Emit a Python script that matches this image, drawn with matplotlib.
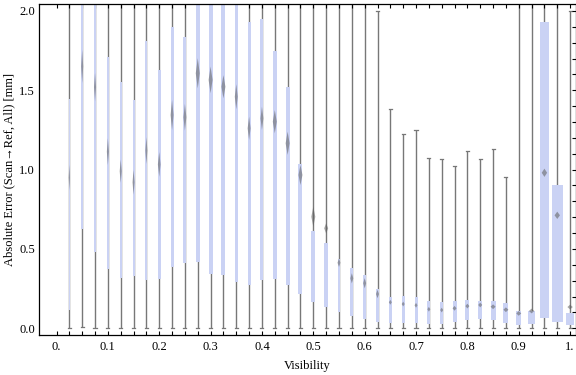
import matplotlib
matplotlib.use('Agg')
import matplotlib.pyplot as plt
from matplotlib.patches import Rectangle, Polygon

plt.rcParams['font.family'] = ['Liberation Serif', 'DejaVu Serif']

# visibility bins (box centres)
visibility = [0.025, 0.05, 0.075, 0.1, 0.125, 0.15, 0.175, 0.2, 0.225, 0.25,
              0.275, 0.3, 0.325, 0.35, 0.375, 0.4, 0.425, 0.45, 0.475, 0.5,
              0.525, 0.55, 0.575, 0.6, 0.625, 0.65, 0.675, 0.7, 0.725, 0.75,
              0.775, 0.8, 0.825, 0.85, 0.875, 0.9, 0.925, 0.95, 0.975, 1.0]

whisker_low = [0.0, 0.01, 0.005, 0.0, 0.0, 0.0, 0.0, 0.0, 0.005, 0.005,
               0.005, 0.005, 0.005, 0.005, 0.005, 0.005, 0.005, 0.005, 0.005, 0.005,
               0.005, 0.005, 0.005, 0.005, 0.005, 0.0, 0.0, 0.0, 0.0, 0.0,
               0.0, 0.0, 0.0, 0.0, 0.0, 0.0, 0.0, 0.0, 0.0, 0.0]

q1 = [0.115, 0.624, 0.483, 0.372, 0.315, 0.331, 0.304, 0.309, 0.388, 0.413,
      0.420, 0.342, 0.336, 0.294, 0.273, 0.302, 0.313, 0.273, 0.218, 0.168,
      0.136, 0.101, 0.078, 0.057, 0.042, 0.035, 0.035, 0.031, 0.029, 0.029,
      0.040, 0.052, 0.059, 0.052, 0.035, 0.021, 0.029, 0.067, 0.042, 0.023]

q3 = [1.443, 2.2, 2.2, 1.711, 1.55, 1.439, 1.812, 1.626, 1.90, 1.834,
      2.2, 2.2, 2.2, 2.2, 1.932, 1.949, 1.747, 1.519, 1.035, 0.613,
      0.536, 0.437, 0.378, 0.334, 0.248, 0.197, 0.204, 0.197, 0.172, 0.166,
      0.172, 0.178, 0.172, 0.172, 0.158, 0.109, 0.109, 1.93, 0.903, 0.096]

whisker_high = [2.6, 2.6, 2.6, 2.6, 2.6, 2.6, 2.6, 2.6, 2.6, 2.6,
                2.6, 2.6, 2.6, 2.6, 2.6, 2.6, 2.6, 2.6, 2.6, 2.6,
                2.6, 2.6, 2.6, 2.6, 2.0, 1.382, 1.222, 1.25, 1.071, 1.065,
                1.023, 1.12, 1.065, 1.129, 0.951, 2.6, 2.6, 2.6, 2.6, 2.0]

means = [0.95, 1.65, 1.52, 1.113, 0.99, 0.92, 1.12, 1.033, 1.344, 1.33,
         1.607, 1.565, 1.522, 1.459, 1.26, 1.323, 1.302, 1.166, 0.966, 0.703,
         0.63, 0.413, 0.315, 0.284, 0.216, 0.164, 0.153, 0.145, 0.12, 0.115,
         0.126, 0.14, 0.147, 0.136, 0.117, 0.094, 0.109, 0.98, 0.712, 0.134]

# half height of the mean marker (uncertainty of the mean)
mean_err = [0.08, 0.105, 0.089, 0.084, 0.073, 0.078, 0.084, 0.078, 0.095, 0.084,
            0.095, 0.084, 0.073, 0.079, 0.073, 0.073, 0.073, 0.073, 0.063, 0.063,
            0.032, 0.026, 0.032, 0.032, 0.026, 0.015, 0.015, 0.015, 0.015, 0.015,
            0.015, 0.015, 0.015, 0.015, 0.015, 0.015, 0.015, 0.026, 0.023, 0.015]

# relative box width (sample weight), fraction of the bin spacing
box_weight = [0.10, 0.16, 0.16, 0.16, 0.16, 0.16, 0.16, 0.21, 0.23, 0.23,
              0.31, 0.31, 0.31, 0.23, 0.23, 0.23, 0.31, 0.31, 0.31, 0.31,
              0.31, 0.23, 0.23, 0.23, 0.23, 0.23, 0.23, 0.23, 0.23, 0.23,
              0.31, 0.31, 0.31, 0.39, 0.39, 0.39, 0.52, 0.70, 0.83, 0.60]

x_ticks = [0.0, 0.1, 0.2, 0.3, 0.4, 0.5, 0.6, 0.7, 0.8, 0.9, 1.0]
x_tick_labels = ['0.', '0.1', '0.2', '0.3', '0.4', '0.5', '0.6', '0.7', '0.8', '0.9', '1.']
y_ticks = [0.0, 0.5, 1.0, 1.5, 2.0]
y_tick_labels = ['0.0', '0.5', '1.0', '1.5', '2.0']

BOX_COLOR = '#cad2f4'
WHISKER_COLOR = '#777777'
MEAN_COLOR = '#5e5e5e'
SPACING = 0.025


def draw_box_whiskers(ax):
    cap = 0.003
    for i, x in enumerate(visibility):
        # whisker line behind the box
        ax.plot([x, x], [whisker_low[i], whisker_high[i]], color=WHISKER_COLOR, lw=1.0,
                solid_capstyle='butt', zorder=1)
        ax.plot([x - cap, x + cap], [whisker_low[i], whisker_low[i]], color=WHISKER_COLOR,
                lw=0.9, zorder=1)
        ax.plot([x - cap, x + cap], [whisker_high[i], whisker_high[i]], color=WHISKER_COLOR,
                lw=0.9, zorder=1)

        w = box_weight[i] * SPACING
        ax.add_patch(Rectangle((x - w / 2, q1[i]), w, q3[i] - q1[i], facecolor=BOX_COLOR,
                               edgecolor='none', zorder=2))

        # mean marker, diamond
        mw = min(w, 0.0105) / 2
        h = mean_err[i]
        m = means[i]
        ax.add_patch(Polygon([(x - mw, m), (x, m + h), (x + mw, m), (x, m - h)], closed=True,
                             facecolor=MEAN_COLOR, edgecolor='none', alpha=0.55, zorder=3))


fig = plt.figure(figsize=(5.76, 3.75), dpi=100)
ax = fig.add_axes([39 / 576, 1 - 335 / 375, (575.5 - 39) / 576, (335 - 4.3) / 375])

draw_box_whiskers(ax)

ax.set_xlim(-0.0341, 1.0105)
ax.set_ylim(-0.0422, 2.0416)

ax.set_xticks(x_ticks)
ax.set_xticklabels(x_tick_labels)
ax.set_xticks([SPACING * k for k in range(41)], minor=True)
ax.set_yticks(y_ticks)
ax.set_yticklabels(y_tick_labels)
ax.set_yticks([0.1 * k for k in range(21)], minor=True)

ax.tick_params(axis='x', which='both', direction='in', length=3, width=0.8,
               top=True, bottom=True, labelsize=9, pad=4)
ax.tick_params(axis='y', which='both', direction='in', length=3, width=0.8,
               left=False, right=True, labelsize=9, pad=3)

for sp in ax.spines.values():
    sp.set_linewidth(0.9)

ax.set_xlabel('Visibility', fontsize=9)
ax.set_ylabel('Absolute Error (Scan\u2192Ref, All) [mm]', fontsize=9)
ax.xaxis.set_label_coords(0.5, -0.075)
ax.yaxis.set_label_coords(-0.045, 0.5)

plt.savefig('out.png', dpi=100)
plt.close(fig)
